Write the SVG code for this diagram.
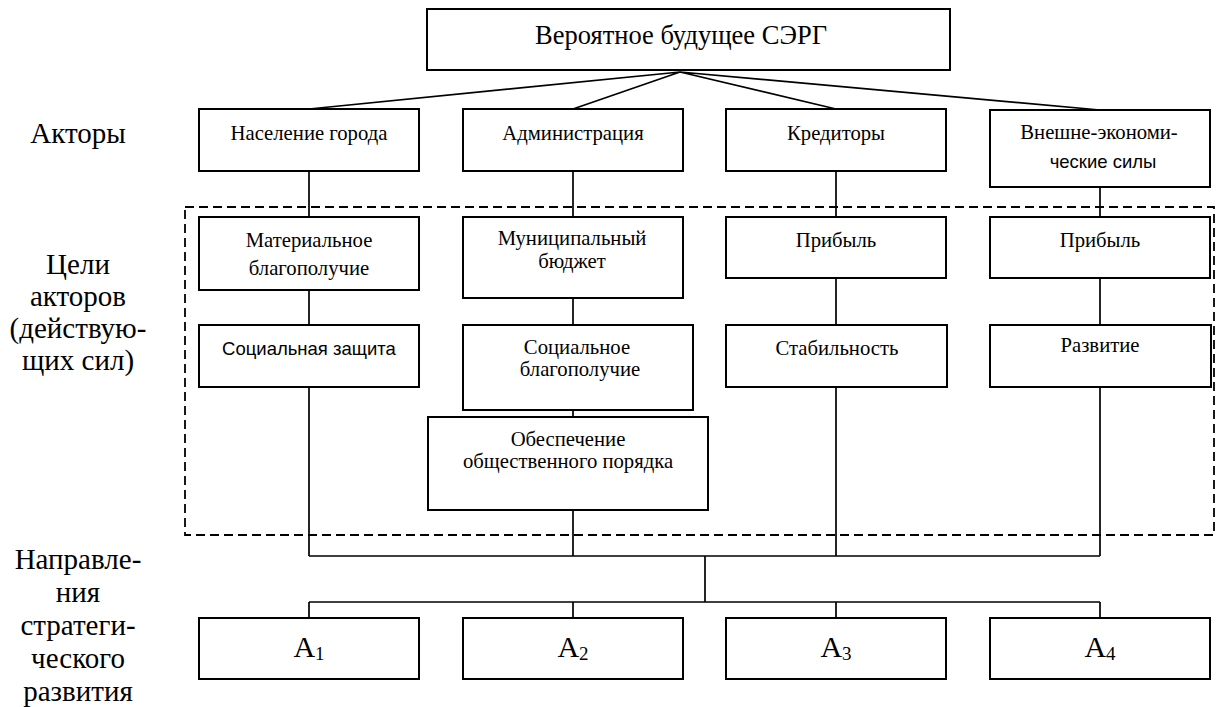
<svg xmlns="http://www.w3.org/2000/svg" width="1216" height="707" viewBox="0 0 1216 707">
  <style>
    .box { fill: #fff; stroke: #000; stroke-width: 2; }
    .line { stroke: #000; stroke-width: 1.7; fill: none; }
    .dash { fill: none; stroke: #000; stroke-width: 1.8; stroke-dasharray: 9 5; }
    .t { font-family: "Liberation Serif", "Times New Roman", serif; fill: #000; text-anchor: middle; }
    .s { font-family: "Liberation Sans", Arial, sans-serif; fill: #000; text-anchor: middle; }
    .side { font-size: 29px; }
    .lbl { font-size: 20.7px; }
    .alt { font-size: 30px; }
    .sub { font-size: 19px; }
  </style>
  <rect width="1216" height="707" fill="#fff"/>

  <!-- side captions -->
  <g id="captions" class="t side">
    <text x="78" y="143">Акторы</text>
    <text x="78" y="274">Цели</text>
    <text x="78" y="306">акторов</text>
    <text x="78" y="338">(действую-</text>
    <text x="78" y="370">щих сил)</text>
    <text x="78" y="569">Направле-</text>
    <text x="78" y="602">ния</text>
    <text x="78" y="635">стратеги-</text>
    <text x="78" y="668">ческого</text>
    <text x="78" y="701">развития</text>
  </g>

  <!-- goals area frame -->
  <rect id="goals-frame" class="dash" x="185" y="207" width="1029" height="328"/>

  <!-- connectors -->
  <g id="connectors" class="line">
    <path d="M680 72 L309 109 M680 72 L573 109 M680 72 L836 109 M680 72 L1100 110"/>
    <path d="M309 171 V217 M309 290 V325 M309 387 V556"/>
    <path d="M573 171 V217 M573 298 V325 M573 410 V417 M573 510 V556"/>
    <path d="M836 171 V217 M836 278 V325 M836 387 V556"/>
    <path d="M1100 187 V217 M1100 278 V325 M1100 387 V556"/>
    <path d="M309 556 H1100 M705 556 V602 M309 602 H1100"/>
    <path d="M309 602 V618 M573 602 V618 M836 602 V618 M1100 602 V618"/>
  </g>

  <!-- root -->
  <g id="root">
    <rect class="box" x="427" y="9" width="523" height="61"/>
    <text class="t" x="681" y="44" font-size="26.5">Вероятное будущее СЭРГ</text>
  </g>

  <!-- actors -->
  <g id="actor-population">
    <rect class="box" x="199" y="109" width="220" height="62"/>
    <text class="t lbl" x="309" y="140">Население города</text>
  </g>
  <g id="actor-administration">
    <rect class="box" x="463" y="109" width="220" height="62"/>
    <text class="t lbl" x="573" y="140">Администрация</text>
  </g>
  <g id="actor-creditors">
    <rect class="box" x="726" y="109" width="220" height="62"/>
    <text class="t lbl" x="836" y="140">Кредиторы</text>
  </g>
  <g id="actor-external">
    <rect class="box" x="990" y="110" width="220" height="77"/>
    <text class="t lbl" x="1099" y="139">Внешне-экономи-</text>
    <text class="s" x="1103" y="168" font-size="18.5">ческие силы</text>
  </g>

  <!-- goals -->
  <g id="goal-material">
    <rect class="box" x="199" y="217" width="220" height="73"/>
    <text class="t lbl" x="309" y="247">Материальное</text>
    <text class="t lbl" x="309" y="275">благополучие</text>
  </g>
  <g id="goal-budget">
    <rect class="box" x="463" y="217" width="220" height="81"/>
    <text class="t lbl" x="572" y="245">Муниципальный</text>
    <text class="t lbl" x="572" y="268">бюджет</text>
  </g>
  <g id="goal-profit-1">
    <rect class="box" x="726" y="217" width="220" height="61"/>
    <text class="t lbl" x="836" y="247">Прибыль</text>
  </g>
  <g id="goal-profit-2">
    <rect class="box" x="990" y="217" width="220" height="61"/>
    <text class="t lbl" x="1100" y="247">Прибыль</text>
  </g>
  <g id="goal-social-protection">
    <rect class="box" x="199" y="325" width="220" height="62"/>
    <text class="s" x="309" y="355" font-size="18.5">Социальная защита</text>
  </g>
  <g id="goal-social-welfare">
    <rect class="box" x="463" y="325" width="230" height="85"/>
    <text class="t lbl" x="577" y="354">Социальное</text>
    <text class="t lbl" x="580" y="376">благополучие</text>
  </g>
  <g id="goal-public-order">
    <rect class="box" x="428" y="417" width="280" height="93"/>
    <text class="t lbl" x="568" y="446">Обеспечение</text>
    <text class="t lbl" x="568" y="468">общественного порядка</text>
  </g>
  <g id="goal-stability">
    <rect class="box" x="726" y="325" width="221" height="62"/>
    <text class="t lbl" x="837" y="355">Стабильность</text>
  </g>
  <g id="goal-development">
    <rect class="box" x="990" y="325" width="221" height="62"/>
    <text class="t lbl" x="1100" y="352">Развитие</text>
  </g>

  <!-- strategic directions -->
  <g id="dir-a1">
    <rect class="box" x="199" y="618" width="220" height="61"/>
    <text class="t alt" x="309" y="657">A<tspan class="sub" dy="3">1</tspan></text>
  </g>
  <g id="dir-a2">
    <rect class="box" x="463" y="618" width="220" height="61"/>
    <text class="t alt" x="573" y="657">A<tspan class="sub" dy="3">2</tspan></text>
  </g>
  <g id="dir-a3">
    <rect class="box" x="726" y="618" width="220" height="61"/>
    <text class="t alt" x="836" y="657">A<tspan class="sub" dy="3">3</tspan></text>
  </g>
  <g id="dir-a4">
    <rect class="box" x="990" y="618" width="220" height="61"/>
    <text class="t alt" x="1100" y="657">A<tspan class="sub" dy="3">4</tspan></text>
  </g>
</svg>
